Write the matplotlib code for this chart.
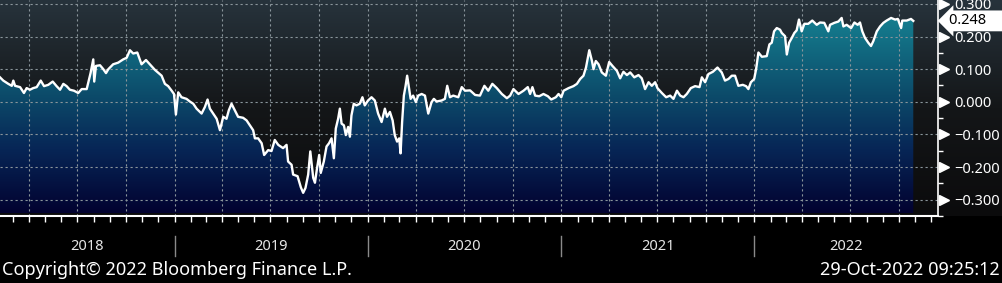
import numpy as np
import pandas as pd
import matplotlib
matplotlib.use("Agg")
from matplotlib import pyplot as plt
import matplotlib.dates as mdates
from matplotlib.colors import LinearSegmentedColormap

plt.rcParams['font.family'] = ['Noto Sans', 'DejaVu Sans']

# readings, time as decimal year
t = [
    2018.096, 2018.113, 2018.139, 2018.157, 2018.165, 2018.174, 2018.200, 2018.220, 2018.234, 2018.251,
    2018.268, 2018.286, 2018.307, 2018.324, 2018.346, 2018.369, 2018.389, 2018.407, 2018.424, 2018.441,
    2018.458, 2018.479, 2018.501, 2018.519, 2018.545, 2018.558, 2018.565, 2018.579, 2018.584, 2018.593,
    2018.614, 2018.631, 2018.645, 2018.657, 2018.682, 2018.708, 2018.734, 2018.752, 2018.769, 2018.786,
    2018.807, 2018.829, 2018.852, 2018.872, 2018.898, 2018.933, 2018.950, 2018.967, 2018.985, 2018.997,
    2019.007, 2019.019, 2019.036, 2019.062, 2019.079, 2019.097, 2019.114, 2019.140, 2019.157, 2019.171,
    2019.183, 2019.200, 2019.218, 2019.235, 2019.252, 2019.269, 2019.281, 2019.295, 2019.312, 2019.329,
    2019.355, 2019.373, 2019.390, 2019.407, 2019.416, 2019.433, 2019.451, 2019.464, 2019.485, 2019.502,
    2019.519, 2019.537, 2019.562, 2019.580, 2019.588, 2019.606, 2019.614, 2019.637, 2019.654, 2019.666,
    2019.678, 2019.692, 2019.703, 2019.718, 2019.727, 2019.738, 2019.749, 2019.757, 2019.773, 2019.787,
    2019.800, 2019.813, 2019.825, 2019.835, 2019.847, 2019.856, 2019.865, 2019.877, 2019.887, 2019.899,
    2019.908, 2019.916, 2019.928, 2019.942, 2019.959, 2019.973, 2019.985, 2020.002, 2020.020, 2020.037,
    2020.054, 2020.072, 2020.089, 2020.100, 2020.115, 2020.129, 2020.140, 2020.152, 2020.163, 2020.170,
    2020.178, 2020.187, 2020.196, 2020.204, 2020.213, 2020.222, 2020.235, 2020.249, 2020.261, 2020.279,
    2020.296, 2020.313, 2020.330, 2020.342, 2020.356, 2020.382, 2020.399, 2020.411, 2020.425, 2020.442,
    2020.468, 2020.486, 2020.503, 2020.529, 2020.555, 2020.580, 2020.603, 2020.623, 2020.644, 2020.667,
    2020.693, 2020.719, 2020.736, 2020.753, 2020.779, 2020.805, 2020.827, 2020.839, 2020.851, 2020.865,
    2020.886, 2020.908, 2020.931, 2020.948, 2020.972, 2020.986, 2021.000, 2021.012, 2021.038, 2021.063,
    2021.081, 2021.098, 2021.115, 2021.128, 2021.145, 2021.159, 2021.167, 2021.179, 2021.193, 2021.210,
    2021.231, 2021.248, 2021.265, 2021.288, 2021.305, 2021.322, 2021.340, 2021.357, 2021.378, 2021.400,
    2021.417, 2021.434, 2021.452, 2021.469, 2021.486, 2021.498, 2021.521, 2021.543, 2021.564, 2021.581,
    2021.599, 2021.616, 2021.633, 2021.650, 2021.671, 2021.693, 2021.716, 2021.728, 2021.745, 2021.762,
    2021.785, 2021.809, 2021.831, 2021.848, 2021.866, 2021.883, 2021.900, 2021.917, 2021.940, 2021.957,
    2021.969, 2021.982, 2021.999, 2022.009, 2022.021, 2022.039, 2022.064, 2022.078, 2022.090, 2022.102,
    2022.116, 2022.133, 2022.142, 2022.159, 2022.168, 2022.180, 2022.194, 2022.207, 2022.219, 2022.231,
    2022.245, 2022.259, 2022.279, 2022.300, 2022.323, 2022.340, 2022.362, 2022.383, 2022.392, 2022.414,
    2022.435, 2022.452, 2022.461, 2022.478, 2022.501, 2022.518, 2022.535, 2022.547, 2022.559, 2022.573,
    2022.590, 2022.604, 2022.616, 2022.634, 2022.651, 2022.668, 2022.685, 2022.708, 2022.729, 2022.743,
    2022.760, 2022.766, 2022.789, 2022.811, 2022.823,
]
spread = [
    0.075, 0.065, 0.055, 0.049, 0.065, 0.049, 0.045, 0.027, 0.042, 0.037,
    0.042, 0.045, 0.065, 0.048, 0.052, 0.062, 0.048, 0.037, 0.055, 0.048,
    0.037, 0.034, 0.027, 0.039, 0.039, 0.070, 0.088, 0.130, 0.062, 0.110,
    0.112, 0.100, 0.088, 0.100, 0.115, 0.120, 0.130, 0.135, 0.158, 0.148,
    0.151, 0.115, 0.128, 0.115, 0.098, 0.080, 0.055, 0.048, 0.034, 0.024,
    -0.039, 0.029, 0.014, 0.009, 0.001, -0.006, -0.021, -0.036, -0.016, 0.007,
    -0.021, -0.036, -0.052, -0.087, -0.046, -0.052, -0.026, -0.006, -0.026, -0.046,
    -0.049, -0.057, -0.072, -0.087, -0.112, -0.112, -0.127, -0.163, -0.148, -0.151,
    -0.117, -0.132, -0.142, -0.132, -0.183, -0.193, -0.223, -0.228, -0.262, -0.279,
    -0.264, -0.223, -0.152, -0.233, -0.248, -0.203, -0.163, -0.218, -0.183, -0.137,
    -0.127, -0.112, -0.173, -0.082, -0.052, -0.021, -0.067, -0.072, -0.102, -0.077,
    -0.107, -0.042, -0.006, -0.011, -0.006, 0.014, -0.011, 0.004, 0.014, 0.004,
    -0.036, -0.062, -0.021, -0.046, -0.031, -0.057, -0.102, -0.122, -0.112, -0.158,
    -0.062, 0.019, 0.049, 0.080, 0.045, 0.009, 0.019, -0.001, 0.019, 0.024,
    0.019, -0.036, -0.001, 0.009, 0.001, 0.004, 0.009, 0.049, 0.014, 0.019,
    0.014, 0.045, 0.034, 0.035, 0.021, 0.019, 0.049, 0.034, 0.055, 0.042,
    0.024, 0.011, 0.019, 0.039, 0.024, 0.034, 0.045, 0.024, 0.045, 0.019,
    0.017, 0.024, 0.017, 0.007, 0.014, 0.024, 0.014, 0.034, 0.042, 0.048,
    0.055, 0.070, 0.080, 0.105, 0.158, 0.125, 0.100, 0.125, 0.115, 0.090,
    0.080, 0.122, 0.110, 0.095, 0.072, 0.092, 0.082, 0.090, 0.075, 0.082,
    0.072, 0.039, 0.060, 0.049, 0.060, 0.042, 0.027, 0.014, 0.019, 0.009,
    0.034, 0.019, 0.014, 0.024, 0.042, 0.048, 0.045, 0.075, 0.060, 0.085,
    0.092, 0.105, 0.090, 0.065, 0.070, 0.080, 0.080, 0.049, 0.052, 0.048,
    0.039, 0.060, 0.070, 0.100, 0.151, 0.138, 0.140, 0.176, 0.181, 0.216,
    0.226, 0.221, 0.211, 0.201, 0.145, 0.181, 0.196, 0.211, 0.219, 0.252,
    0.216, 0.239, 0.239, 0.249, 0.236, 0.243, 0.242, 0.216, 0.236, 0.242,
    0.246, 0.257, 0.231, 0.236, 0.226, 0.243, 0.236, 0.243, 0.216, 0.196,
    0.181, 0.171, 0.186, 0.216, 0.231, 0.242, 0.249, 0.257, 0.252, 0.254,
    0.226, 0.249, 0.249, 0.254, 0.248,
]

ytick_vals = [-0.3, -0.2, -0.1, 0.0, 0.1, 0.2, 0.3]
ytick_labels = ["\u22120.300", "\u22120.200", "\u22120.100", "0.000", "0.100", "0.200", "0.300"]
years = [2018, 2019, 2020, 2021, 2022]
last_label = "0.248"
copyright_txt = "Copyright\u00a9 2022 Bloomberg Finance L.P."
stamp_txt = "29-Oct-2022 09:25:12"
x_from, x_to = 2018.096, 2022.951
y_from, y_to = -0.342, 0.312


def to_date(y):
    yr = int(y)
    a = pd.Timestamp(year=yr, month=1, day=1)
    b = pd.Timestamp(year=yr + 1, month=1, day=1)
    return a + (b - a) * (y - yr)


dates = [to_date(v) for v in t]
xmin, xmax = to_date(x_from), to_date(x_to)

W, H = 1003, 283
fig = plt.figure(figsize=(W / 100, H / 100), dpi=100, facecolor="black")
bot = 1 - 216 / H

# dark background gradient behind plot + right labels
bg = fig.add_axes([0, bot, 1, 1 - bot], zorder=0)
bg_cmap = LinearSegmentedColormap.from_list("bg", ["#0b0b0c", "#141618", "#27333c"])
bg.imshow(np.linspace(0, 1, 256).reshape(-1, 1), cmap=bg_cmap, aspect="auto", origin="lower",
          extent=[0, 1, 0, 1])
bg.axis("off")

ax = fig.add_axes([0, bot, 938 / W, 1 - bot], zorder=1)
ax.patch.set_alpha(0)

# gradient fill under the line
fill = ax.fill_between(dates, spread, y_from, color="none", lw=0)
fill_cmap = LinearSegmentedColormap.from_list(
    "fill", [(0.0, "#020230"), (0.3, "#072656"), (0.55, "#0c4b6a"), (1.0, "#178a98")])
im = ax.imshow(np.linspace(0, 1, 256).reshape(-1, 1), cmap=fill_cmap, aspect="auto", origin="lower",
               extent=[mdates.date2num(xmin), mdates.date2num(xmax), y_from, y_to], zorder=1)
im.set_clip_path(fill.get_paths()[0], transform=ax.transData)

ax.plot(dates, spread, color="white", lw=1.7, zorder=3)

ax.set_xlim(xmin, xmax)
ax.set_ylim(y_from, y_to)
ax.set_aspect("auto")

# x axis: monthly ticks, quarterly grid
ax.xaxis.set_major_locator(mdates.MonthLocator())
ax.xaxis.set_minor_locator(mdates.MonthLocator(bymonth=[1, 4, 7, 10]))
ax.xaxis.remove_overlapping_locs = False
ax.xaxis.set_major_formatter(plt.NullFormatter())
ax.tick_params(axis="x", which="major", direction="out", length=4, width=1, color="white")
ax.tick_params(axis="x", which="minor", length=0)
ax.grid(which="minor", axis="x", color="#8a959b", lw=0.8, ls=(0, (2, 2.5)), zorder=2)

# y axis on the right
ax.yaxis.tick_right()
ax.set_yticks(ytick_vals)
ax.set_yticklabels(ytick_labels)
ax.set_yticks(np.arange(-0.35, 0.35, 0.05), minor=True)
ax.tick_params(axis="y", which="major", length=0, pad=12, labelcolor="white", labelsize=10.5)
ax.tick_params(axis="y", which="minor", length=3.5, width=1, color="white", direction="out")
ax.grid(which="major", axis="y", color="#8a959b", lw=0.8, ls=(0, (2, 2.5)), zorder=2)
ax.plot([1.006] * len(ytick_vals), ytick_vals, ls="none", marker=">", ms=7, color="white",
        transform=ax.get_yaxis_transform(), clip_on=False)

for s in ["top", "left"]:
    ax.spines[s].set_visible(False)
ax.spines["bottom"].set_color("white")
ax.spines["bottom"].set_linewidth(1.5)
ax.spines["right"].set_color("white")
ax.spines["right"].set_linewidth(1.2)

# year labels and separators
xt = ax.get_xaxis_transform()
for yr in years:
    a = max(pd.Timestamp(year=yr, month=1, day=1), xmin)
    b = min(pd.Timestamp(year=yr + 1, month=1, day=1), xmax)
    ax.text(a + (b - a) / 2, -0.139, str(yr), transform=xt, ha="center", va="center",
            color="#e6e6e6", fontsize=10.5, clip_on=False)
    if yr > years[0]:
        ax.plot([a, a], [-0.0926, -0.185], transform=xt, color="#8a8a8a", lw=1, clip_on=False)

# last value tag
ax.text(949 / 938, spread[-1], last_label + "    ", transform=ax.get_yaxis_transform(),
        ha="left", va="center", fontsize=10.5, color="black", clip_on=False, zorder=5,
        bbox=dict(boxstyle="larrow,pad=0.2", fc="white", ec="none"))

fig.text(0.002, 1 - 270 / H, copyright_txt, ha="left", va="center", color="white", fontsize=13)
fig.text(0.997, 1 - 270 / H, stamp_txt, ha="right", va="center", color="white", fontsize=13)

fig.savefig("out.png", dpi=100, facecolor="black")
